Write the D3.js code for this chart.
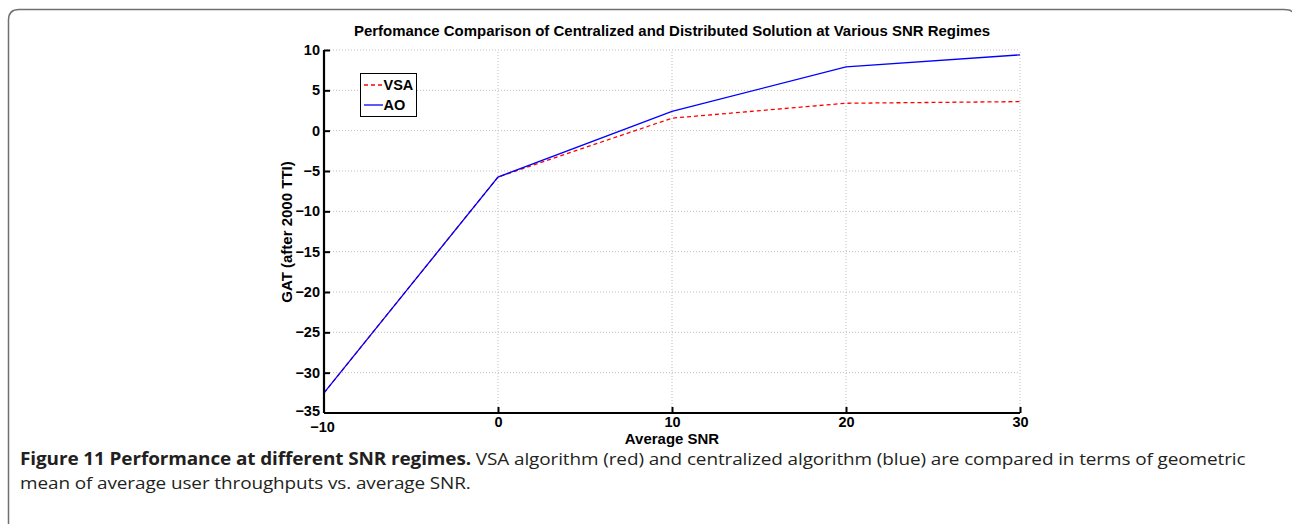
<!DOCTYPE html>
<html><head><meta charset="utf-8">
<script src="https://cdn.jsdelivr.net/npm/d3@7"></script>
<style>body{margin:0;background:#fff;} svg{display:block;}</style>
</head><body>
<svg id="c" width="1292" height="524"></svg>
<script>
const snr = [-10, 0, 10, 20, 30];
const vsa = [-32.5, -5.75, 1.55, 3.4, 3.6];
const ao = [-32.5, -5.75, 2.4, 7.9, 9.4];
const xTicks = [-10, 0, 10, 20, 30];
const yTicks = [10, 5, 0, -5, -10, -15, -20, -25, -30, -35];

const svg = d3.select("#c");
// figure frame
svg.append("path")
  .attr("d", "M8.5,540 L8.5,20 Q8.5,9.5 19,9.5 L1284,9.5 Q1291,9.5 1292,12")
  .attr("fill", "none").attr("stroke", "#707070").attr("stroke-width", 1.5);

const x = d3.scaleLinear().domain([-10, 30]).range([324, 1020]);
const y = d3.scaleLinear().domain([-35, 10]).range([413, 50]);

// grid
const g = svg.append("g");
g.selectAll(".gx").data(xTicks.slice(1)).enter().append("line")
  .attr("x1", d => x(d)).attr("x2", d => x(d)).attr("y1", y(-35)).attr("y2", y(10))
  .attr("stroke", "#bdbdbd").attr("stroke-dasharray", "1,2").attr("stroke-width", 1);
g.selectAll(".gy").data(yTicks.slice(0, -1)).enter().append("line")
  .attr("y1", d => y(d)).attr("y2", d => y(d)).attr("x1", x(-10)).attr("x2", x(30))
  .attr("stroke", "#bdbdbd").attr("stroke-dasharray", "1,2").attr("stroke-width", 1);

// lines
const line = d3.line().x((d, i) => x(snr[i])).y(d => y(d));
svg.append("path").datum(vsa).attr("d", line).attr("fill", "none")
  .attr("stroke", "#ff0000").attr("stroke-width", 1.3).attr("stroke-dasharray", "4,3");
svg.append("path").datum(ao).attr("d", line).attr("fill", "none")
  .attr("stroke", "#0000ff").attr("stroke-width", 1.3);

// axes
const fnt = "'Liberation Sans', Arial, sans-serif";
const fmt = d => d < 0 ? "\u2212" + Math.abs(d) : d;
const xAxis = svg.append("g").attr("transform", `translate(0,${y(-35)})`)
  .call(d3.axisBottom(x).tickValues(xTicks).tickSize(-6).tickPadding(4).tickFormat(fmt));
const yAxis = svg.append("g").attr("transform", `translate(${x(-10)},0)`)
  .call(d3.axisLeft(y).tickValues(yTicks).tickSize(-6).tickPadding(4).tickFormat(fmt));
[xAxis, yAxis].forEach(a => {
  a.select(".domain").attr("stroke", "#000").attr("stroke-width", 2.2);
  a.selectAll(".tick line").attr("stroke", "#000").attr("stroke-width", 2);
  a.selectAll("text").attr("font-family", fnt).attr("font-weight", "bold")
    .attr("font-size", 14.5).attr("fill", "#000");
});
xAxis.select(".domain").attr("d", `M${x(-10)},0H${x(30)}`);
yAxis.select(".domain").attr("d", `M0,${y(-35)}V${y(10)}`);
xAxis.selectAll(".tick").filter(d => d === -10).select("line").remove();
yAxis.selectAll(".tick").filter(d => d === -35).select("line").remove();
xAxis.selectAll(".tick").filter(d => d === -10).select("text").attr("dx", -2).attr("dy", "1.0em");
yAxis.selectAll(".tick").filter(d => d === -35).select("text").attr("dy", "0.15em");

// titles
svg.append("text").attr("transform", "translate(672,36) scale(1.07,1)").attr("text-anchor", "middle")
  .attr("font-family", fnt).attr("font-weight", "bold").attr("font-size", 14)
  .text("Perfomance Comparison of Centralized and Distributed Solution at Various SNR Regimes");
svg.append("text").attr("transform", "translate(672,443.5) scale(1.07,1)").attr("text-anchor", "middle")
  .attr("font-family", fnt).attr("font-weight", "bold").attr("font-size", 14)
  .text("Average SNR");
svg.append("text").attr("transform", "translate(292,232) rotate(-90)").attr("text-anchor", "middle")
  .attr("font-family", fnt).attr("font-weight", "bold").attr("font-size", 15)
  .text("GAT (after 2000 TTI)");

// legend
const lg = svg.append("g");
lg.append("rect").attr("x", 360.5).attr("y", 73.5).attr("width", 56).attr("height", 43)
  .attr("fill", "#fff").attr("stroke", "#000").attr("stroke-width", 1);
const leg = [{n: "VSA", c: "#ff0000", d: "4,3"}, {n: "AO", c: "#0000ff", d: null}];
leg.forEach((l, i) => {
  const yy = 85 + i * 20;
  lg.append("line").attr("x1", 364).attr("x2", 383).attr("y1", yy).attr("y2", yy)
    .attr("stroke", l.c).attr("stroke-width", 1.3).attr("stroke-dasharray", l.d);
  lg.append("text").attr("x", 383.5).attr("y", yy + 5).attr("font-family", fnt)
    .attr("font-weight", "bold").attr("font-size", 14.5).text(l.n);
});

// caption
const cf = "'Open Sans', 'Noto Sans', sans-serif";
const c1 = svg.append("text").attr("transform", "translate(20,465) scale(1.115,1)").attr("font-family", cf)
  .attr("font-size", 17).attr("fill", "#231f20").attr("letter-spacing", -0.1);
c1.append("tspan").attr("font-weight", "bold").text("Figure 11 Performance at different SNR regimes.");
c1.append("tspan").text(" VSA algorithm (red) and centralized algorithm (blue) are compared in terms of geometric");
svg.append("text").attr("transform", "translate(20,489) scale(1.115,1)").attr("font-family", cf)
  .attr("font-size", 17).attr("fill", "#231f20").attr("letter-spacing", -0.1)
  .text("mean of average user throughputs vs. average SNR.");
</script>
</body></html>
